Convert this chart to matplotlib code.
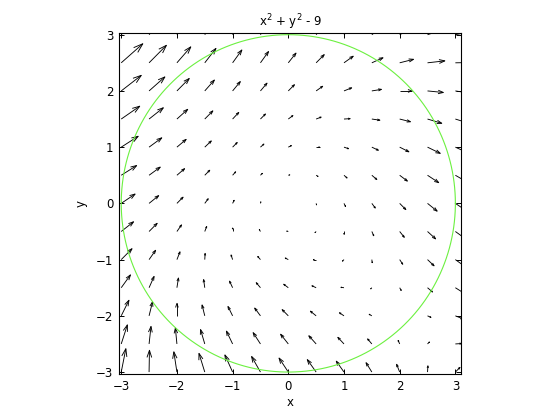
import numpy as np
import matplotlib
matplotlib.use('Agg')
import matplotlib.pyplot as plt
from matplotlib.collections import LineCollection

# grid of the quiver plot
xs = [-3, -2.5, -2, -1.5, -1, -0.5, 0, 0.5, 1, 1.5, 2, 2.5, 3]
ys = [-3, -2.5, -2, -1.5, -1, -0.5, 0, 0.5, 1, 1.5, 2, 2.5, 3]
title = r'x$^2$ + y$^2$ - 9'
radius = 3          # level curve x^2 + y^2 - 9 = 0
xlim = [-3.04, 3.11]
ylim = [-3.04, 3.03]
xticks = [-3, -2, -1, 0, 1, 2, 3]
yticks = [-3, -2, -1, 0, 1, 2, 3]

X, Y = np.meshgrid(xs, ys)
# vector field: (x^2 + 2y, y^2 - 2x)
U = X**2 + 2*Y
V = Y**2 - 2*X

# matlab style autoscale
n = np.sqrt(X.size)
delx = (max(xs) - min(xs))/n
dely = (max(ys) - min(ys))/n
ln = np.sqrt((U**2 + V**2)/(delx**2 + dely**2))
s = 0.9/ln.max()
u = U*s
v = V*s

alpha = 0.33  # head length
beta = 0.33   # head width
eps = 1e-16
segs = []
for x0, y0, a, b in zip(X.ravel(), Y.ravel(), u.ravel(), v.ravel()):
    segs.append([(x0, y0), (x0+a, y0+b)])
    h1 = (x0+a-alpha*(a+beta*(b+eps)), y0+b-alpha*(b-beta*(a+eps)))
    h3 = (x0+a-alpha*(a-beta*(b+eps)), y0+b-alpha*(b+beta*(a+eps)))
    segs.append([h1, (x0+a, y0+b), h3])

fig = plt.figure(figsize=(5.6, 4.2), dpi=100)
ax = fig.add_axes([0.2125, 0.1088, 0.6116, 0.8126])
ax.add_collection(LineCollection(segs, colors='k', linewidths=0.65))

t = np.linspace(0, 2*np.pi, 400)
ax.plot(radius*np.cos(t), radius*np.sin(t), color='#6cf040', lw=0.8)

ax.set_xlim(xlim)
ax.set_ylim(ylim)
ax.set_xticks(xticks)
ax.set_yticks(yticks)
ax.tick_params(direction='in', length=3.5, width=0.7, top=True, right=True,
               labelsize=8.5, pad=4)
for sp in ax.spines.values():
    sp.set_linewidth(0.8)
ax.set_xlabel('x', fontsize=8.5, labelpad=2)
ax.set_ylabel('y', fontsize=8.5, labelpad=6)
ax.set_title(title, fontsize=8.5, pad=5)

plt.savefig('out.png', dpi=100)
